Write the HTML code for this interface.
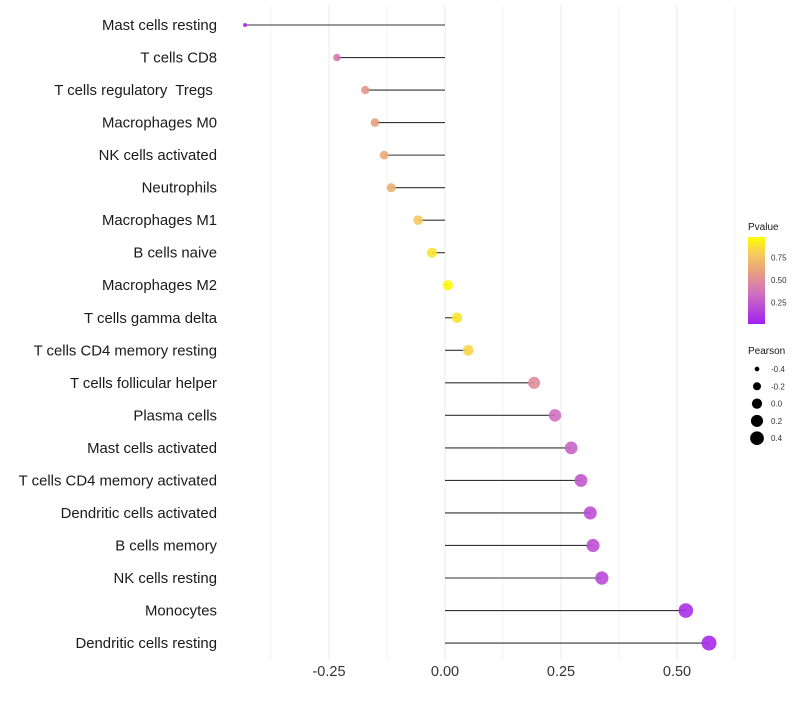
<!DOCTYPE html>
<html><head><meta charset="utf-8"><style>
body{margin:0;background:#fff;font-family:"Liberation Sans",sans-serif}
text{white-space:pre}
</style></head><body>
<svg id="chart" width="800" height="700" xmlns="http://www.w3.org/2000/svg" font-family="Liberation Sans, sans-serif">
<defs><linearGradient id="pg" x1="0" y1="1" x2="0" y2="0">
<stop offset="0" stop-color="#a020f0"/><stop offset="0.35" stop-color="#d070c0"/><stop offset="0.6" stop-color="#e8a080"/><stop offset="0.8" stop-color="#f5c860"/><stop offset="1" stop-color="#ffff00"/>
</linearGradient></defs>
<g id="grid"></g><g id="marks"></g><g id="labels"></g><g id="legend"></g>
</svg>
<script>
const categories=["Mast cells resting","T cells CD8","T cells regulatory  Tregs ","Macrophages M0","NK cells activated","Neutrophils","Macrophages M1","B cells naive","Macrophages M2","T cells gamma delta","T cells CD4 memory resting","T cells follicular helper","Plasma cells","Mast cells activated","T cells CD4 memory activated","Dendritic cells activated","B cells memory","NK cells resting","Monocytes","Dendritic cells resting"];
const pearson=[-0.431,-0.233,-0.172,-0.151,-0.131,-0.116,-0.058,-0.028,0.006,0.026,0.050,0.192,0.237,0.272,0.293,0.313,0.319,0.338,0.519,0.569];
const pvalue=[0.05,0.4,0.55,0.6,0.65,0.68,0.8,0.9,0.98,0.9,0.85,0.5,0.35,0.3,0.25,0.2,0.2,0.18,0.07,0.05];
const xTicks=[-0.25,0,0.25,0.5];
const xTickLabels=["-0.25","0.00","0.25","0.50"];
const sizeBreaks=[-0.4,-0.2,0.0,0.2,0.4];
const sizeLabels=["-0.4","-0.2","0.0","0.2","0.4"];
const colorBreaks=[0.75,0.5,0.25];
const colorLabels=["0.75","0.50","0.25"];

const NS="http://www.w3.org/2000/svg";
const x=v=>445+v*464;
const y=i=>25+i*32.53;
const r=v=>Math.sqrt(Math.max(1,4+52*(v+0.43)));
const stops=[[0,[160,32,240]],[0.35,[208,112,192]],[0.6,[232,160,128]],[0.8,[245,200,96]],[1,[255,255,0]]];
function col(p){for(let k=1;k<stops.length;k++){if(p<=stops[k][0]){const a=stops[k-1],b=stops[k],t=(p-a[0])/(b[0]-a[0]);return "rgb("+a[1].map((c,j)=>Math.round(c+(b[1][j]-c)*t)).join(",")+")";}}return "rgb(255,255,0)";}
function mk(tag,attrs,parent){const e=document.createElementNS(NS,tag);for(const k in attrs)e.setAttribute(k,attrs[k]);document.getElementById(parent).appendChild(e);return e;}
for(let v=-0.375;v<=0.63;v+=0.125){
 const e=mk("line",{x1:x(v),x2:x(v),y1:5,y2:660,stroke:"#ebebeb","stroke-width":Math.abs((v/0.25)%1)<0.01?1:0.6},"grid");
 
 
}
xTicks.forEach((v,i)=>{
 const t=mk("text",{x:x(v),y:676,"text-anchor":"middle","font-size":14.5,fill:"#333"},"labels");t.textContent=xTickLabels[i];
 
 
});
categories.forEach((c,i)=>{
 const t=mk("text",{x:217,y:y(i)+5,"text-anchor":"end","font-size":14.9,fill:"#1a1a1a"},"labels");t.textContent=c;
 
 
 const l=mk("line",{x1:x(0),x2:x(pearson[i]),y1:y(i),y2:y(i),stroke:"#333","stroke-width":1.1},"marks");
 
 
 const d=mk("circle",{cx:x(pearson[i]),cy:y(i),r:r(pearson[i]),fill:col(pvalue[i]),"fill-opacity":0.9},"marks");
 
 
});
let t=mk("text",{x:748,y:230,"font-size":10,fill:"#1a1a1a"},"legend");t.textContent="Pvalue";


let b=mk("rect",{x:748,y:237,width:17,height:87,fill:"url(#pg)"},"legend");


colorBreaks.forEach((v,i)=>{const yy=325-v*90;
 const tl=mk("text",{x:771,y:yy+3,"font-size":8,fill:"#333"},"legend");tl.textContent=colorLabels[i];
 
 
});
t=mk("text",{x:748,y:354,"font-size":10,fill:"#1a1a1a"},"legend");t.textContent="Pearson";


sizeBreaks.forEach((v,i)=>{const yy=369+i*17.3;
 const c=mk("circle",{cx:757,cy:yy,r:r(v),fill:"#000"},"legend");
 
 
 const tl=mk("text",{x:771,y:yy+3,"font-size":8,fill:"#333"},"legend");tl.textContent=sizeLabels[i];
 
 
});
</script>
</body></html>
